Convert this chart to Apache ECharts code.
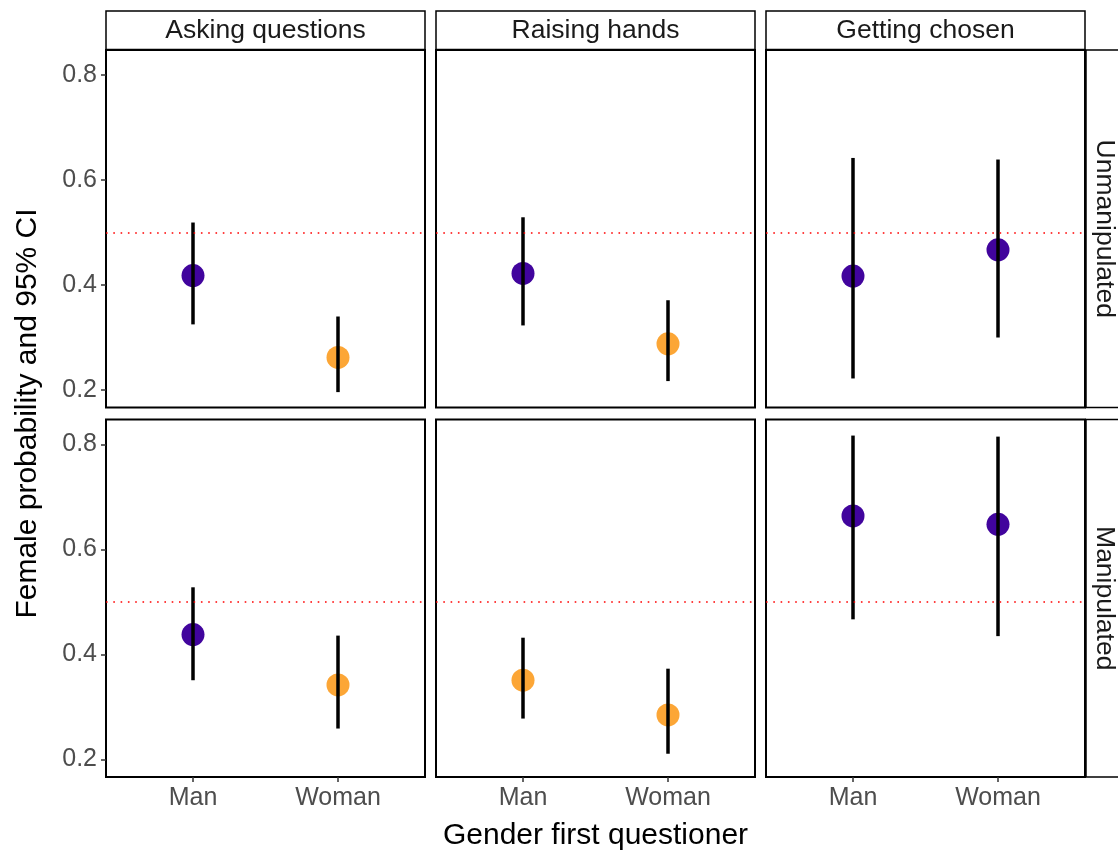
<!DOCTYPE html>
<html>
<head>
<meta charset="utf-8">
<style>
  html, body { margin: 0; padding: 0; background: #fff; }
  #chart { width: 1118px; height: 862px; }
</style>
<script src="https://cdn.jsdelivr.net/npm/echarts@6/dist/echarts.min.js"></script>
</head>
<body>
<div id="chart"></div>
<script>
// Facets: columns are the measures, rows the experimental conditions
const genders = ['Man', 'Woman'];
const measures = ['Asking questions', 'Raising hands', 'Getting chosen'];
const conditions = ['Unmanipulated', 'Manipulated'];
const yTicks = [0.2, 0.4, 0.6, 0.8];
const parityLevel = 0.5;

// Female probability (point estimate) per measure, [Man, Woman]
const unmanipulatedEstimate = [[0.418, 0.262], [0.422, 0.288], [0.417, 0.467]];
const unmanipulatedLower    = [[0.325, 0.196], [0.323, 0.217], [0.222, 0.300]];
const unmanipulatedUpper    = [[0.519, 0.340], [0.529, 0.371], [0.642, 0.639]];

const manipulatedEstimate = [[0.438, 0.342], [0.351, 0.285], [0.664, 0.648]];
const manipulatedLower    = [[0.351, 0.259], [0.278, 0.211], [0.467, 0.435]];
const manipulatedUpper    = [[0.528, 0.436], [0.432, 0.373], [0.817, 0.815]];

const rowsEstimate = [unmanipulatedEstimate, manipulatedEstimate];
const rowsLower = [unmanipulatedLower, manipulatedLower];
const rowsUpper = [unmanipulatedUpper, manipulatedUpper];

// Styling
const FONT = "'Liberation Sans', Arial, sans-serif";
const COLOR_INCLUDES_PARITY = '#41049D';
const COLOR_EXCLUDES_PARITY = '#FCA636';

const colLeft = [106, 436, 766];
const panelWidth = 319;
const rowTop = [50, 419.5];
const panelHeight = 357.5;
const Y_MIN = 0.1667, Y_MAX = 0.8476;

const grids = [], xAxes = [], yAxes = [], series = [], graphics = [];

for (let r = 0; r < 2; r++) {
  for (let c = 0; c < 3; c++) {
    const i = r * 3 + c;
    grids.push({
      left: colLeft[c], top: rowTop[r], width: panelWidth, height: panelHeight,
      show: true, borderColor: '#000', borderWidth: 2, backgroundColor: '#fff'
    });
    const bottomRow = r === 1;
    const firstCol = c === 0;
    xAxes.push({
      type: 'value', gridIndex: i, min: 0.4, max: 2.6,
      axisLine: { show: false },
      splitLine: { show: false },
      axisTick: { show: bottomRow, customValues: [1, 2], length: 5, lineStyle: { color: '#333', width: 1.5 } },
      axisLabel: {
        show: bottomRow, customValues: [1, 2], margin: 9,
        formatter: v => genders[Math.round(v) - 1],
        color: '#4D4D4D', fontSize: 25, fontFamily: FONT
      }
    });
    yAxes.push({
      type: 'value', gridIndex: i, min: Y_MIN, max: Y_MAX,
      axisLine: { show: false },
      splitLine: { show: false },
      axisTick: { show: firstCol, customValues: yTicks, length: 5, lineStyle: { color: '#333', width: 1.5 } },
      axisLabel: {
        show: firstCol, customValues: yTicks, margin: 9,
        formatter: v => v.toFixed(1),
        color: '#4D4D4D', fontSize: 25, fontFamily: FONT
      }
    });

    const est = rowsEstimate[r][c], lo = rowsLower[r][c], hi = rowsUpper[r][c];

    // Reference line at parity
    series.push({
      type: 'line', xAxisIndex: i, yAxisIndex: i, data: [], silent: true, z: 1,
      markLine: {
        silent: true, symbol: 'none', animation: false,
        label: { show: false },
        lineStyle: { color: '#FF0000', width: 1.6, type: [1.6, 5.7] },
        data: [{ yAxis: parityLevel }]
      }
    });

    // Point estimates, coloured by whether the CI covers parity
    series.push({
      type: 'scatter', xAxisIndex: i, yAxisIndex: i, z: 2, symbolSize: 23,
      animation: false,
      data: est.map((v, k) => ({
        value: [k + 1, v],
        itemStyle: {
          opacity: 1,
          color: (lo[k] <= parityLevel && hi[k] >= parityLevel) ? COLOR_INCLUDES_PARITY : COLOR_EXCLUDES_PARITY
        }
      }))
    });

    // 95% CI bars
    series.push({
      type: 'custom', xAxisIndex: i, yAxisIndex: i, z: 3, animation: false,
      data: est.map((v, k) => [k + 1, lo[k], hi[k]]),
      encode: { x: 0, y: [1, 2] },
      renderItem: (params, api) => {
        const p0 = api.coord([api.value(0), api.value(1)]);
        const p1 = api.coord([api.value(0), api.value(2)]);
        return {
          type: 'line',
          shape: { x1: p0[0], y1: p0[1], x2: p1[0], y2: p1[1] },
          style: { stroke: '#000', lineWidth: 3.5 }
        };
      }
    });
  }
}

// Column strips (measures)
measures.forEach((m, c) => {
  graphics.push({
    type: 'rect', shape: { x: colLeft[c], y: 11, width: panelWidth, height: 38.5 },
    style: { fill: '#fff', stroke: '#000', lineWidth: 1.5 }, z: 10
  });
  graphics.push({
    type: 'text', x: colLeft[c] + panelWidth / 2, y: 31, z: 11,
    style: { text: m, fill: '#1A1A1A', font: '26.5px ' + FONT, textAlign: 'center', textVerticalAlign: 'middle' }
  });
});

// Row strips (conditions)
conditions.forEach((cond, r) => {
  graphics.push({
    type: 'rect', shape: { x: 1086, y: rowTop[r], width: 60, height: panelHeight },
    style: { fill: '#fff', stroke: '#000', lineWidth: 1.5 }, z: 10
  });
  graphics.push({
    type: 'text', x: 1104, y: rowTop[r] + panelHeight / 2, rotation: -Math.PI / 2, z: 11,
    style: { text: cond, fill: '#1A1A1A', font: '26.5px ' + FONT, textAlign: 'center', textVerticalAlign: 'middle' }
  });
});

// Axis titles
graphics.push({
  type: 'text', x: 28, y: 413.5, rotation: Math.PI / 2, z: 11,
  style: { text: 'Female probability and 95% CI', fill: '#000', font: '30px ' + FONT, textAlign: 'center', textVerticalAlign: 'middle' }
});
graphics.push({
  type: 'text', x: 595.5, y: 836, z: 11,
  style: { text: 'Gender first questioner', fill: '#000', font: '30px ' + FONT, textAlign: 'center', textVerticalAlign: 'middle' }
});

const chart = echarts.init(document.getElementById('chart'), null, { renderer: 'canvas' });
chart.setOption({
  backgroundColor: '#fff',
  animation: false,
  grid: grids,
  xAxis: xAxes,
  yAxis: yAxes,
  series: series,
  graphic: graphics
});
</script>
</body>
</html>
